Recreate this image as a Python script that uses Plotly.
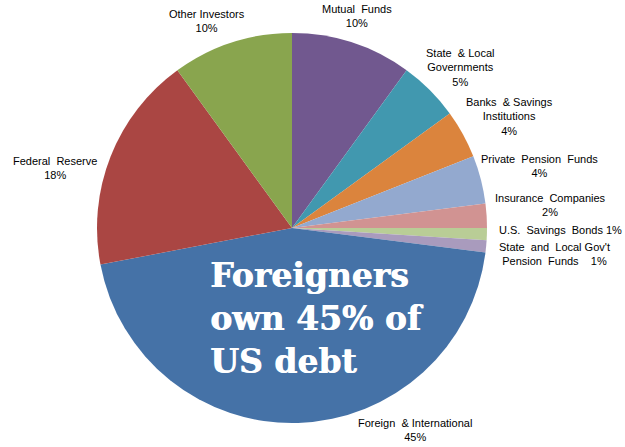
import plotly.graph_objects as go

# Data (clockwise from 12 o'clock)
categories = [
    "Mutual Funds", "State & Local Governments", "Banks & Savings Institutions",
    "Private Pension Funds", "Insurance Companies", "U.S. Savings Bonds",
    "State and Local Gov't Pension Funds", "Foreign & International",
    "Federal Reserve", "Other Investors",
]
shares = [10, 5, 4, 4, 2, 1, 1, 45, 18, 10]
label_texts = [
    "Mutual  Funds<br>10%",
    "State  & Local<br>Governments<br>5%",
    "Banks  & Savings<br>Institutions<br>4%",
    "Private  Pension  Funds<br>4%",
    "Insurance  Companies<br>2%",
    "U.S.  Savings  Bonds 1%",
    "State  and  Local Gov't<br>Pension  Funds    1%",
    "Foreign  & International<br>45%",
    "Federal  Reserve<br>18%",
    "Other Investors<br>10%",
]
colors = ["#71588F", "#4198AF", "#DB843D", "#93A9CF", "#D19392",
          "#B9CD96", "#A99BBD", "#4572A7", "#AA4643", "#89A54E"]

# Layout (pixels)
W, H = 625, 447
cx, cy, r = 292, 228, 195
label_pos = [(357, 16), (460, 67), (509, 117), (539, 166), (550, 205),
             (560, 230), (554, 254), (415, 430), (55, 168), (207, 21)]

fig = go.Figure(go.Pie(
    labels=categories, values=shares, sort=False, direction="clockwise",
    rotation=0, textinfo="none", hoverinfo="label+percent",
    marker=dict(colors=colors, line=dict(width=0)),
    domain=dict(x=[(cx - r) / W, (cx + r) / W],
                y=[(H - cy - r) / H, (H - cy + r) / H]),
    showlegend=False,
))

annotations = []
for txt, (px, py) in zip(label_texts, label_pos):
    annotations.append(dict(
        text=txt, x=px / W, y=1 - py / H, xref="paper", yref="paper",
        xanchor="center", yanchor="middle", showarrow=False,
        font=dict(family="Arial, Liberation Sans", size=11, color="#000000"),
    ))

annotations.append(dict(
    text="Foreigners<br>own 45% of<br>US debt",
    x=208 / W, y=1 - 318 / H, xref="paper", yref="paper",
    xanchor="left", yanchor="middle", align="left", showarrow=False,
    font=dict(family="DejaVu Serif", size=33, color="#FFFFFF", weight="bold",
              shadow="0.7px 0px 0px #FFFFFF"),
))

fig.update_layout(
    width=W, height=H, margin=dict(l=0, r=0, t=0, b=0),
    paper_bgcolor="#FFFFFF", plot_bgcolor="#FFFFFF",
    annotations=annotations,
)

fig.write_html(
    "out.html",
    config={"displayModeBar": False},
    post_script="document.body.style.margin='0';document.body.style.padding='0';",
)
